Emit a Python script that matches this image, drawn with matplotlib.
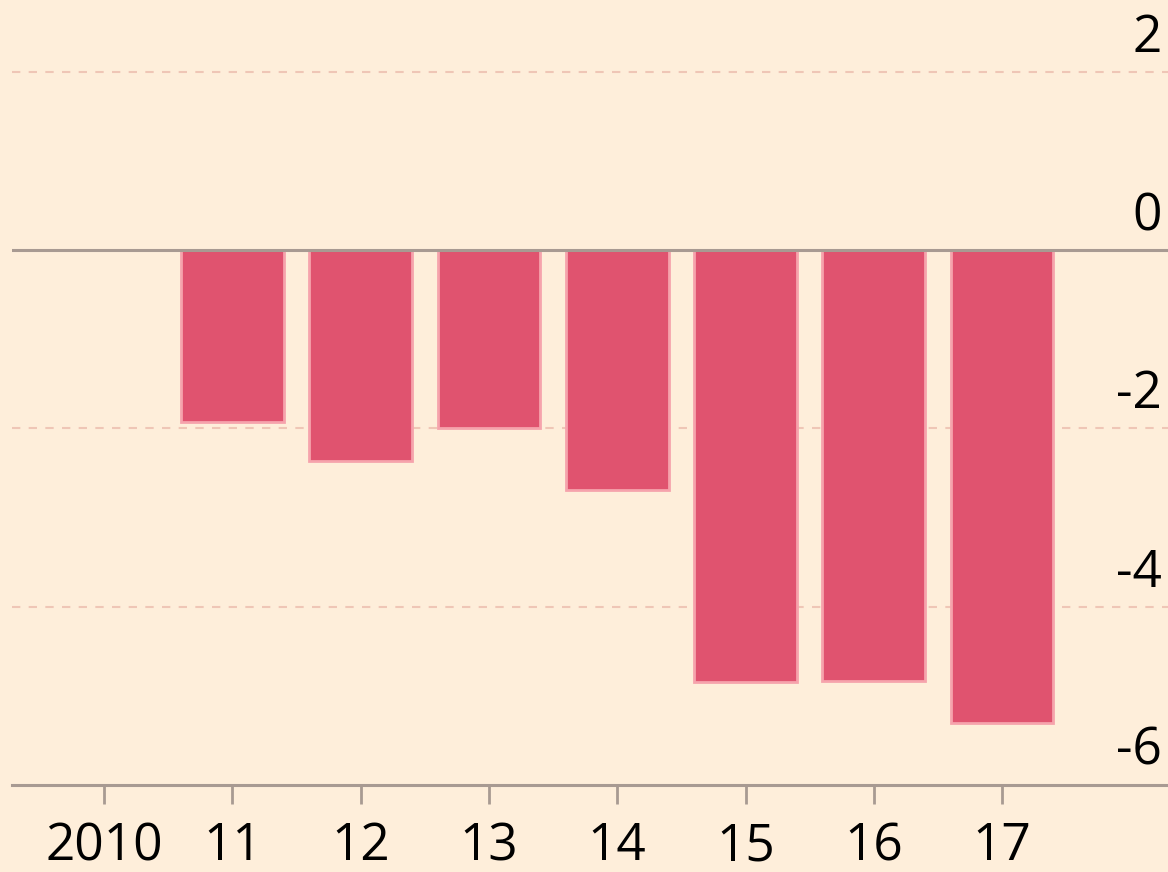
import matplotlib.pyplot as plt

plt.rcParams['font.family'] = ['Open Sans', 'DejaVu Sans']

# valores
years = [2010, 2011, 2012, 2013, 2014, 2015, 2016, 2017]
year_labels = ['2010', '11', '12', '13', '14', '15', '16', '17']
values = [0.0, -1.93, -2.36, -2.0, -2.69, -4.85, -4.83, -5.30]
y_ticks = [2, 0, -2, -4, -6]

BG = '#FEEEDA'
BAR = '#E0536F'
BAR_EDGE = '#F6A3AC'
AXIS = '#A89A92'
GRID = '#EFC6B6'

fig = plt.figure(figsize=(11.68, 8.72), dpi=100, facecolor=BG)
ax = fig.add_axes([12 / 1168, 87 / 872, 1 - 12 / 1168, 785 / 872])
ax.set_facecolor(BG)

bar_years = [y for y, v in zip(years, values) if v != 0]
bar_vals = [v for v in values if v != 0]
ax.bar(bar_years, bar_vals, width=0.8, color=BAR, edgecolor=BAR_EDGE,
       linewidth=2, zorder=2)

# lineas de referencia
for t in y_ticks:
    if t == 0:
        ax.axhline(0, color=AXIS, lw=2.2, zorder=3)
    elif t != -6:
        ax.axhline(t, color=GRID, lw=1.5, ls=(0, (4, 4)), zorder=1)
    ax.text(0.995, t + 0.09, f'{t}', transform=ax.get_yaxis_transform(),
            ha='right', va='bottom', fontsize=37, color='#000000')

ax.set_xlim(2010 - 92 / 128.3, 2010 + 1064 / 128.3)
ax.set_ylim(-6, 250 / 89.1)

for s in ['top', 'left', 'right']:
    ax.spines[s].set_visible(False)
ax.spines['bottom'].set_color(AXIS)
ax.spines['bottom'].set_linewidth(2.2)

ax.set_yticks([])
ax.set_xticks(years)
ax.set_xticklabels(year_labels, fontsize=37, color='#000000')
ax.tick_params(axis='x', length=14, width=2, color=AXIS, pad=12)

fig.savefig('out.png', dpi=100, facecolor=BG)
